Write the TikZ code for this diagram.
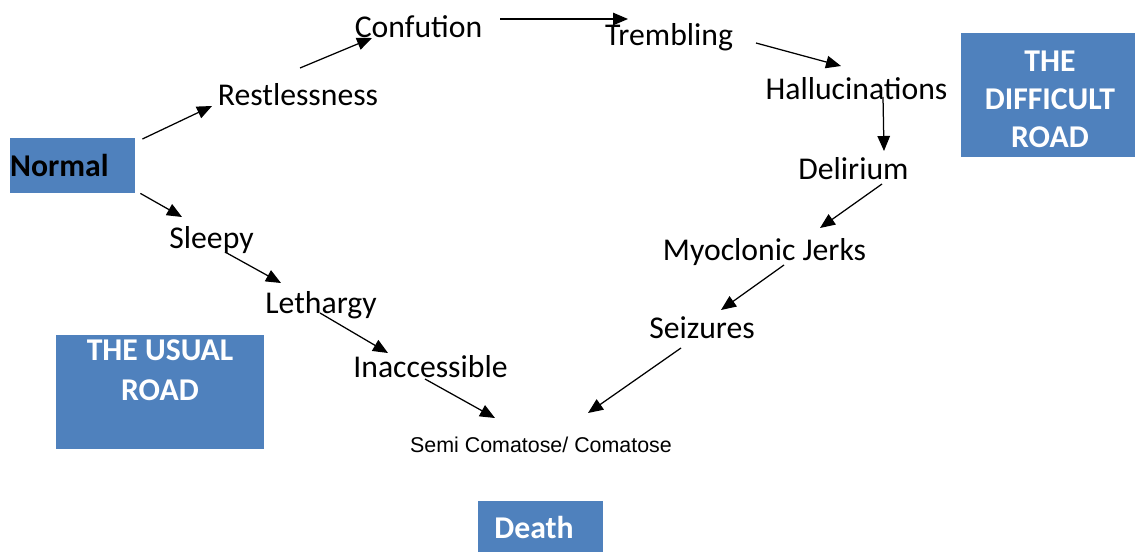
\documentclass[tikz,border=0pt]{standalone}
\usepackage{fontspec}
\setmainfont{Carlito}
\newfontfamily\arialf{Liberation Sans}
\usetikzlibrary{arrows.meta,calc}
\definecolor{boxblue}{RGB}{79,129,189}
\begin{document}
\begin{tikzpicture}[x=1pt,y=-1pt,
  lbl/.style={inner sep=0pt, anchor=base, font=\fontsize{31.7}{38}\selectfont},
  bluebox/.style={fill=boxblue, draw=none, inner sep=0pt, anchor=north west},
  boxtxt/.style={inner sep=0pt, text=white, align=center, font=\fontsize{31.7}{38}\selectfont\bfseries},
  arr/.style={-{Triangle[length=15pt,width=12.5pt]}, line width=1.25pt}]
\useasboundingbox (0,0) rectangle (1135,552);

% boxes
\node[bluebox, minimum width=125pt, minimum height=55pt] (normal) at (10,138) {};
\node[inner sep=0pt, anchor=base west, font=\fontsize{31.7}{38}\selectfont\bfseries] (normaltxt) at (10,176) {Normal};
\node[bluebox, minimum width=174pt, minimum height=124pt] (difficult) at (961,33) {};
\node[boxtxt, anchor=north] (difftxt) at (1050,51) {THE\\DIFFICULT\\ROAD};
\node[bluebox, minimum width=208pt, minimum height=114pt] (usual) at (56,335) {};
\node[boxtxt, anchor=north] (usualtxt) at (160,340) {THE USUAL\\[2pt]ROAD};
\node[bluebox, minimum width=125pt, minimum height=51pt] (death) at (478,501) {};
\node[boxtxt, anchor=base] (deathtxt) at (534,538) {Death};

% stage labels
\node[lbl] (rest) at (298,105) {Restlessness};
\node[lbl] (conf) at (418.5,37) {Confution};
\node[lbl] (trem) at (669,45) {Trembling};
\node[lbl] (hall) at (856.5,99) {Hallucinations};
\node[lbl] (deli) at (853.5,179) {Delirium};
\node[lbl] (myo) at (764.5,260) {Myoclonic Jerks};
\node[lbl] (seiz) at (702,338) {Seizures};
\node[lbl] (sleepy) at (211.5,248) {Sleepy};
\node[lbl] (leth) at (321,313) {Lethargy};
\node[lbl] (inac) at (430.5,377) {Inaccessible};
\node[lbl, font=\arialf\fontsize{21.4}{25}\selectfont] (semi) at (541,452) {Semi Comatose/ Comatose};

% connectors
\draw[arr] ($(normal.north east)+(7,1)$) -- ($(rest.base)+(-86,1)$);
\draw[arr] ($(rest.base)+(2,-37)$) -- ($(conf.base)+(-46.5,1)$);
\draw[arr] ($(conf.base)+(81.5,-18)$) -- ($(trem.base)+(-41,-26)$);
\draw[arr] ($(trem.base)+(87,-2)$) -- ($(hall.base)+(-15.5,-33)$);
\draw[arr] ($(hall.base)+(26.5,-2)$) -- ($(deli.base)+(30.5,-28)$);
\draw[arr] ($(deli.base)+(28.5,5)$) -- ($(myo.base)+(55.5,-32)$);
\draw[arr] ($(myo.base)+(19.5,5)$) -- ($(seiz.base)+(19,-28)$);
\draw[arr] ($(seiz.base)+(-21,10)$) -- ($(semi.base)+(47,-39)$);
\draw[arr] ($(normal.south east)+(5,0)$) -- ($(sleepy.base)+(-29.5,-31)$);
\draw[arr] ($(sleepy.base)+(13.5,4)$) -- ($(leth.base)+(-40,-30)$);
\draw[arr] ($(leth.base)+(-1,0)$) -- ($(inac.base)+(-42.5,-24)$);
\draw[arr] ($(inac.base)+(-5.5,2)$) -- ($(semi.base)+(-46,-34)$);
\end{tikzpicture}
\end{document}
